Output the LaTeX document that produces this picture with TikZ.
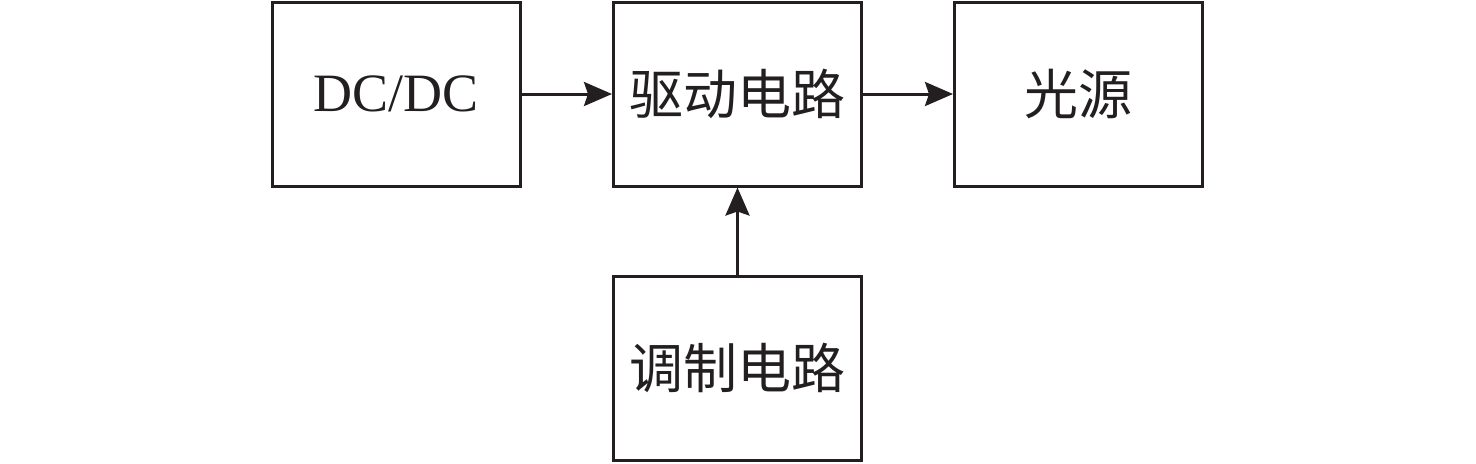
\documentclass[tikz,border=0pt]{standalone}
\usepackage{fontspec}
\setmainfont{Liberation Serif}
\newfontfamily\cjk{Noto Sans CJK SC}
\usetikzlibrary{arrows.meta}
\definecolor{ink}{HTML}{231F20}
\begin{document}
\begin{tikzpicture}[x=0.5pt,y=-0.5pt,
  blk/.style={draw=ink,line width=1.5pt,minimum width=124pt,minimum height=92pt,inner sep=0pt,font=\fontsize{27pt}{30pt}\selectfont,text=ink},
  conn/.style={draw=ink,line width=1.5pt,-{Stealth[length=14pt,width=12pt,inset=2pt]}}]
\useasboundingbox (0,0) rectangle (1476,463);
\node[blk] (dc) at (396,94) {DC/DC};
\node[blk] (drv) at (737.5,94) {\cjk 驱动电路};
\node[blk] (src) at (1078.5,94) {\cjk 光源};
\node[blk] (mod) at (737.5,368) {\cjk 调制电路};
\draw[conn] (dc) -- (drv);
\draw[conn] (drv) -- (src);
\draw[conn] (mod) -- (drv);
\end{tikzpicture}
\end{document}
